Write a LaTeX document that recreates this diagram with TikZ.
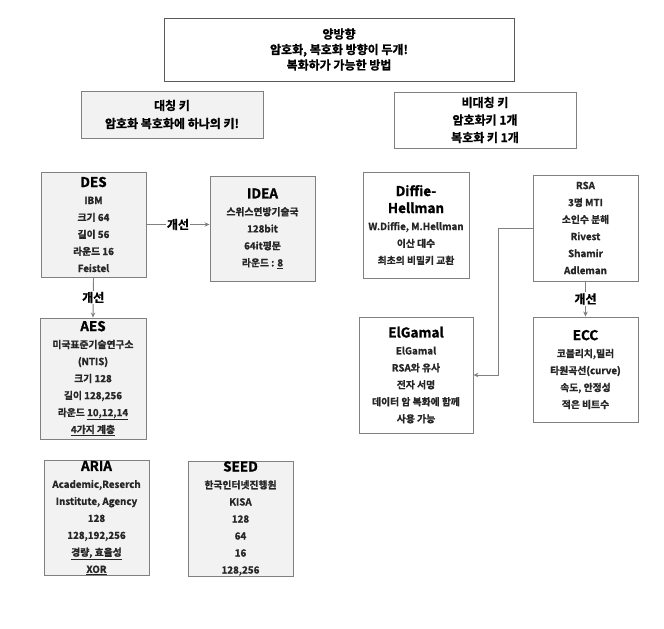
\documentclass[tikz,border=0pt]{standalone}
\usepackage{fontspec}
\setmainfont{Noto Sans CJK KR}[BoldFont={Noto Sans CJK KR Bold}, BoldFeatures={FakeBold=1.2}]
\usetikzlibrary{arrows.meta}
\definecolor{bordergray}{HTML}{808080}
\definecolor{darkborder}{HTML}{5A5A5A}
\definecolor{boxgray}{HTML}{F2F2F2}
\definecolor{txt}{HTML}{262626}
\newcommand\boxtitle[1]{{\fontsize{13.5}{17}\selectfont\color{black}#1}}
\tikzset{
  card/.style={draw=bordergray, line width=0.9pt, fill=white, inner sep=0pt,
    align=center, text=txt, font=\bfseries\fontsize{9.8}{17}\selectfont},
  graycard/.style={card, fill=boxgray},
  headcard/.style={card, font=\bfseries\fontsize{12}{15.5}\selectfont, text=black},
  conn/.style={draw=bordergray, line width=0.9pt, -{Stealth[length=5pt,width=4.5pt]}},
  lbl/.style={fill=white, inner sep=1pt, text=black, font=\bfseries\fontsize{12}{14}\selectfont}
}
\begin{document}
\begin{tikzpicture}[x=1pt,y=-1pt]
\useasboundingbox (0,0) rectangle (664,629);

% top boxes
\node[headcard, draw=darkborder, minimum width=350pt, minimum height=63pt] (top) at (339,49.5)
  {양방향\\암호화, 복호화 방향이 두개!\\복화하가 가능한 방법};
\node[headcard, graycard, font=\bfseries\fontsize{12}{18}\selectfont, text=black, minimum width=182pt, minimum height=47pt] (sym) at (172,114.5)
  {대칭 키\\암호화 복호화에 하나의 키!};
\node[headcard, font=\bfseries\fontsize{12}{17.5}\selectfont, minimum width=182pt, minimum height=56pt] (asym) at (485,120)
  {비대칭 키\\암호화키 1개\\복호화 키 1개};

% symmetric
\node[graycard, minimum width=105pt, minimum height=105pt] (des) at (93.5,224.5)
  {\boxtitle{DES}\\IBM\\크기 64\\길이 56\\라운드 16\\Feistel};
\node[graycard, minimum width=105pt, minimum height=105pt] (idea) at (262.5,228.5)
  {\boxtitle{IDEA}\\스위스연방기술국\\128bit\\64it평문\\라운드 : \underline{8}};
\node[graycard, minimum width=106pt, minimum height=121pt] (aes) at (93,378.5)
  {\boxtitle{AES}\\미국표준기술연구소\\(NTIS)\\크기 128\\길이 128,256\\라운드 \underline{10,12,14}\\\underline{4가지 계층}};
\node[graycard, minimum width=105pt, minimum height=114pt] (aria) at (96.5,518)
  {\boxtitle{ARIA}\\Academic,Reserch\\Institute, Agency\\128\\128,192,256\\\underline{경량, 효율성}\\\underline{XOR}};
\node[graycard, minimum width=105pt, minimum height=115pt] (seed) at (240.5,518.5)
  {\boxtitle{SEED}\\한국인터넷진행원\\KISA\\128\\64\\16\\128,256};

% asymmetric
\node[card, minimum width=106pt, minimum height=106pt] (dh) at (416,225)
  {\boxtitle{Diffie-}\\\boxtitle{Hellman}\\W.Diffie, M.Hellman\\이산 대수\\최초의 비밀키 교환};
\node[card, minimum width=105pt, minimum height=106pt] (rsa) at (585.5,228)
  {RSA\\3명 MTI\\소인수 분해\\Rivest\\Shamir\\Adleman};
\node[card, minimum width=114pt, minimum height=116pt] (elgamal) at (416,375)
  {\boxtitle{ElGamal}\\ElGamal\\RSA와 유사\\전자 서명\\데이터 암 복화에 함께\\사용 가능};
\node[card, minimum width=105pt, minimum height=105pt] (ecc) at (585.5,369.5)
  {\boxtitle{ECC}\\코블리치,밀러\\타원곡선(curve)\\속도, 안정성\\적은 비트수};

% connectors
\draw[conn] (des.east) -- node[lbl] (l1) {개선} (idea.west |- des.east);
\draw[conn] (des.south) -- node[lbl] (l2) {개선} (aes.north);
\draw[conn] (rsa.south) -- node[lbl] (l3) {개선} (ecc.north);
\draw[conn] (rsa.west) -- ++(-34,0) |- (elgamal.east);
\end{tikzpicture}
\end{document}
